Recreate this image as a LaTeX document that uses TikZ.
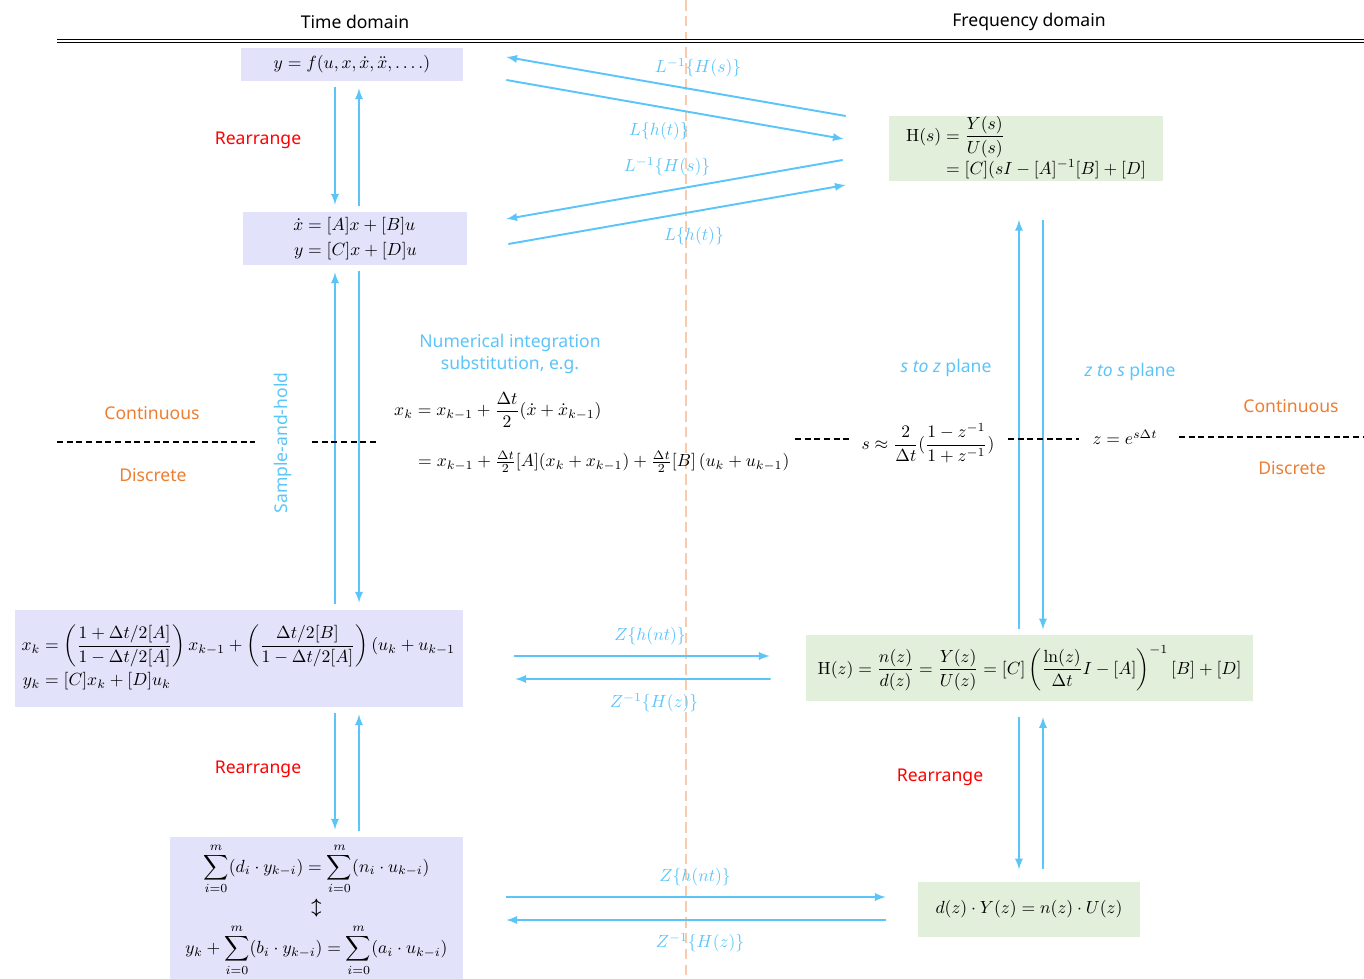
\documentclass[tikz,border=0pt]{standalone}
\usepackage{amsmath}
\usepackage{fontspec}
\newfontfamily\guifont{Noto Sans}
\usetikzlibrary{calc}
\definecolor{flowblue}{RGB}{91,197,250}
\definecolor{timefill}{RGB}{226,226,250}
\definecolor{freqfill}{RGB}{226,239,218}
\definecolor{domainorange}{RGB}{237,125,49}
\definecolor{splitpeach}{RGB}{248,203,173}

\begin{document}
\begin{tikzpicture}[
	x = 0.02cm, y = -0.02cm, % one unit = one pixel of the sketch
	> = latex, % arrow head style
	font = \normalsize
	]
	
	\tikzstyle{time box}=[fill = timefill, inner sep = 0pt]
	\tikzstyle{freq box}=[fill = freqfill, inner sep = 0pt]
	\tikzstyle{flow}=[draw = flowblue, line width = 1.1pt, shorten > = 4pt, shorten < = 3pt]
	\tikzstyle{tag}=[text = flowblue]
	\tikzstyle{word}=[font = \guifont\normalsize]
	\tikzstyle{cut}=[draw = black, line width = 1.2pt, dash pattern = on 3.5pt off 2pt]
	
	\useasboundingbox (0,0) rectangle (1364,979);
	
	% time / frequency split
	\draw[splitpeach, line width = 1pt, dash pattern = on 6pt off 3pt] (686,0) -- (686,979);
	\node[word] (tTime) at (355,22) {Time domain};
	\node[word] (tFreq) at (1029,22) {Frequency domain};
	\draw[double, double distance = 1.2pt, line width = 0.6pt] (57,41) -- (1364,41);
	
	% time domain column
	\node[time box, minimum width = 4.44cm, minimum height = 0.66cm] (qODE) at (352,64.5)
		{$y = f(u, x, \dot{x}, \ddot{x}, \ldots.)$};
	\node[time box, minimum width = 4.48cm, minimum height = 1.06cm] (qSS) at (355,238.5)
		{$\begin{aligned} \dot{x} &= [A]x + [B]u \\[-1pt] y &= [C]x + [D]u \end{aligned}$};
	\node[time box, minimum width = 8.96cm, minimum height = 1.94cm, text width = 8.7cm] (qDSS) at (239,658.5)
		{$\begin{aligned} x_k &= \left(\frac{1+\Delta t/2[A]}{1-\Delta t/2[A]}\right) x_{k-1} + \left(\frac{\Delta t/2[B]}{1-\Delta t/2[A]}\right)(u_k + u_{k-1} \\[-2pt] y_k &= [C]x_k + [D]u_k \end{aligned}$};
	\node[time box, minimum width = 5.86cm, minimum height = 2.9cm] (qDiff) at (316.5,909.5)
		{$\begin{gathered} \displaystyle\sum_{i=0}^{m}(d_i\cdot y_{k-i}) = \sum_{i=0}^{m}(n_i\cdot u_{k-i}) \\[-2pt] \boldsymbol{\updownarrow} \\[-1pt] y_k + \displaystyle\sum_{i=0}^{m}(b_i\cdot y_{k-i}) = \sum_{i=0}^{m}(a_i\cdot u_{k-i}) \end{gathered}$};
	
	% frequency domain column
	\node[freq box, minimum width = 5.48cm, minimum height = 1.26cm] (qHs) at (1026,148.5)
		{$\begin{aligned} \mathrm{H}(s) &= \frac{Y(s)}{U(s)} \\[-3pt] &= [C](sI - [A]^{-1}[B] + [D] \end{aligned}$};
	\node[freq box, minimum width = 8.94cm, minimum height = 1.32cm] (qHz) at (1029.5,668)
		{$\mathrm{H}(z) = \dfrac{n(z)}{d(z)} = \dfrac{Y(z)}{U(z)} = [C]\left(\dfrac{\ln(z)}{\Delta t} I - [A]\right)^{-1}[B] + [D]$};
	\node[freq box, minimum width = 4.44cm, minimum height = 1.1cm] (qDz) at (1029,909.5)
		{$d(z)\cdot Y(z) = n(z)\cdot U(z)$};
	
	% lanes of the vertical arrows
	\coordinate (laneA) at (335,0);
	\coordinate (laneB) at (359,0);
	\coordinate (laneC) at (1019,0);
	\coordinate (laneD) at (1043,0);
	
	\draw[flow,->] (qODE.south -| laneA) -- (qSS.north -| laneA);
	\draw[flow,->] (qSS.north -| laneB) -- (qODE.south -| laneB);
	\draw[flow,->] (qDSS.north -| laneA) -- (qSS.south -| laneA);
	\draw[flow,->] (qSS.south -| laneB) -- (qDSS.north -| laneB);
	\draw[flow,->] (qDSS.south -| laneA) -- (qDiff.north -| laneA);
	\draw[flow,->] (qDiff.north -| laneB) -- (qDSS.south -| laneB);
	\draw[flow,->, shorten < = 3pt, shorten > = 22pt] (qHz.north -| laneC) -- (qHs.south -| laneC);
	\draw[flow,->, shorten < = 22pt, shorten > = 3pt] (qHs.south -| laneD) -- (qHz.north -| laneD);
	\draw[flow,->, shorten < = 9pt, shorten > = 7pt] (qHz.south -| laneC) -- (qDz.north -| laneC);
	\draw[flow,->, shorten < = 7pt, shorten > = 9pt] (qDz.north -| laneD) -- (qHz.south -| laneD);
	
	% transforms between the columns
	\draw[flow,->, shorten < = 0pt, shorten > = 0pt] ($(qHs.west)+(-43,-32.5)$) -- ($(qODE.east)+(43,-7.5)$);
	\draw[flow,->, shorten < = 0pt, shorten > = 0pt] ($(qODE.east)+(43,15.5)$) -- ($(qHs.west)+(-45,-9.5)$);
	\draw[flow,->, shorten < = 0pt, shorten > = 0pt] ($(qHs.west)+(-46,11.5)$) -- ($(qSS.east)+(39,-19.5)$);
	\draw[flow,->, shorten < = 0pt, shorten > = 0pt] ($(qSS.east)+(41,5.5)$) -- ($(qHs.west)+(-43,36.5)$);
	\draw[flow,->, shorten < = 0pt, shorten > = 0pt] ($(qDSS.east)+(51,-2.5)$) -- ($(qHz.west)+(-36,-12)$);
	\draw[flow,->, shorten < = 0pt, shorten > = 0pt] ($(qHz.west)+(-35,11)$) -- ($(qDSS.east)+(52,20.5)$);
	\draw[flow,->, shorten < = 0pt, shorten > = 0pt] ($(qDiff.east)+(43,-12.5)$) -- ($(qDz.west)+(-32,-12.5)$);
	\draw[flow,->, shorten < = 0pt, shorten > = 0pt] ($(qDz.west)+(-32,10.5)$) -- ($(qDiff.east)+(43,10.5)$);
	
	\node[tag] (lInvA) at (698,68) {$L^{-1}\{H(s)\}$};
	\node[tag] (lLapA) at (659,131) {$L\{h(t)\}$};
	\node[tag] (lInvB) at (667,167) {$L^{-1}\{H(s)\}$};
	\node[tag] (lLapB) at (694,236) {$L\{h(t)\}$};
	\node[tag] (lZA) at (650,636) {$Z\{h(nt)\}$};
	\node[tag] (lInvZA) at (654,703) {$Z^{-1}\{H(z)\}$};
	\node[tag] (lZB) at (695,877) {$Z\{h(nt)\}$};
	\node[tag] (lInvZB) at (700,943) {$Z^{-1}\{H(z)\}$};
	
	% rearrange notes
	\node[word, text = red] (rTop) at (258,140) {Rearrange};
	\node[word, text = red] (rMid) at (258,769) {Rearrange};
	\node[word, text = red] (rRight) at (940,777) {Rearrange};
	
	% continuous / discrete border
	\draw[cut] (57,442) -- (255,442);
	\draw[cut] (312,442) -- (379,442);
	\draw[cut] (795,439) -- (851,439);
	\draw[cut] (1008,439) -- (1079,439);
	\draw[cut] (1179,437) -- (1364,437);
	\node[word, text = domainorange] (cL) at (152,413) {Continuous};
	\node[word, text = domainorange] (dL) at (153,475) {Discrete};
	\node[word, text = domainorange] (cR) at (1291,406) {Continuous};
	\node[word, text = domainorange] (dR) at (1292,468) {Discrete};
	\node[word, tag, rotate = 90] (sHold) at (283,443) {Sample-and-hold};
	
	\node[word, tag, align = center] (nInt) at (510,354) {Numerical integration\\[1pt]substitution, e.g.};
	\node[anchor = west] (int1) at (388,410) {$x_k = x_{k-1} + \dfrac{\Delta t}{2}(\dot{x} + \dot{x}_{k-1})$};
	\node[anchor = west] (int2) at (412,462) {$= x_{k-1} + \tfrac{\Delta t}{2}[A](x_k + x_{k-1}) + \tfrac{\Delta t}{2}[B]\,(u_k + u_{k-1})$};
	
	\node[word, tag] (sz) at (946,368) {\textit{s to z} plane};
	\node[word, tag] (zs) at (1130,372) {\textit{z to s} plane};
	\node (tustin) at (928,443) {$s \approx \dfrac{2}{\Delta t}(\dfrac{1-z^{-1}}{1+z^{-1}})$};
	\node (expmap) at (1125,437) {$z = e^{s\Delta t}$};
	
\end{tikzpicture}
\end{document}
